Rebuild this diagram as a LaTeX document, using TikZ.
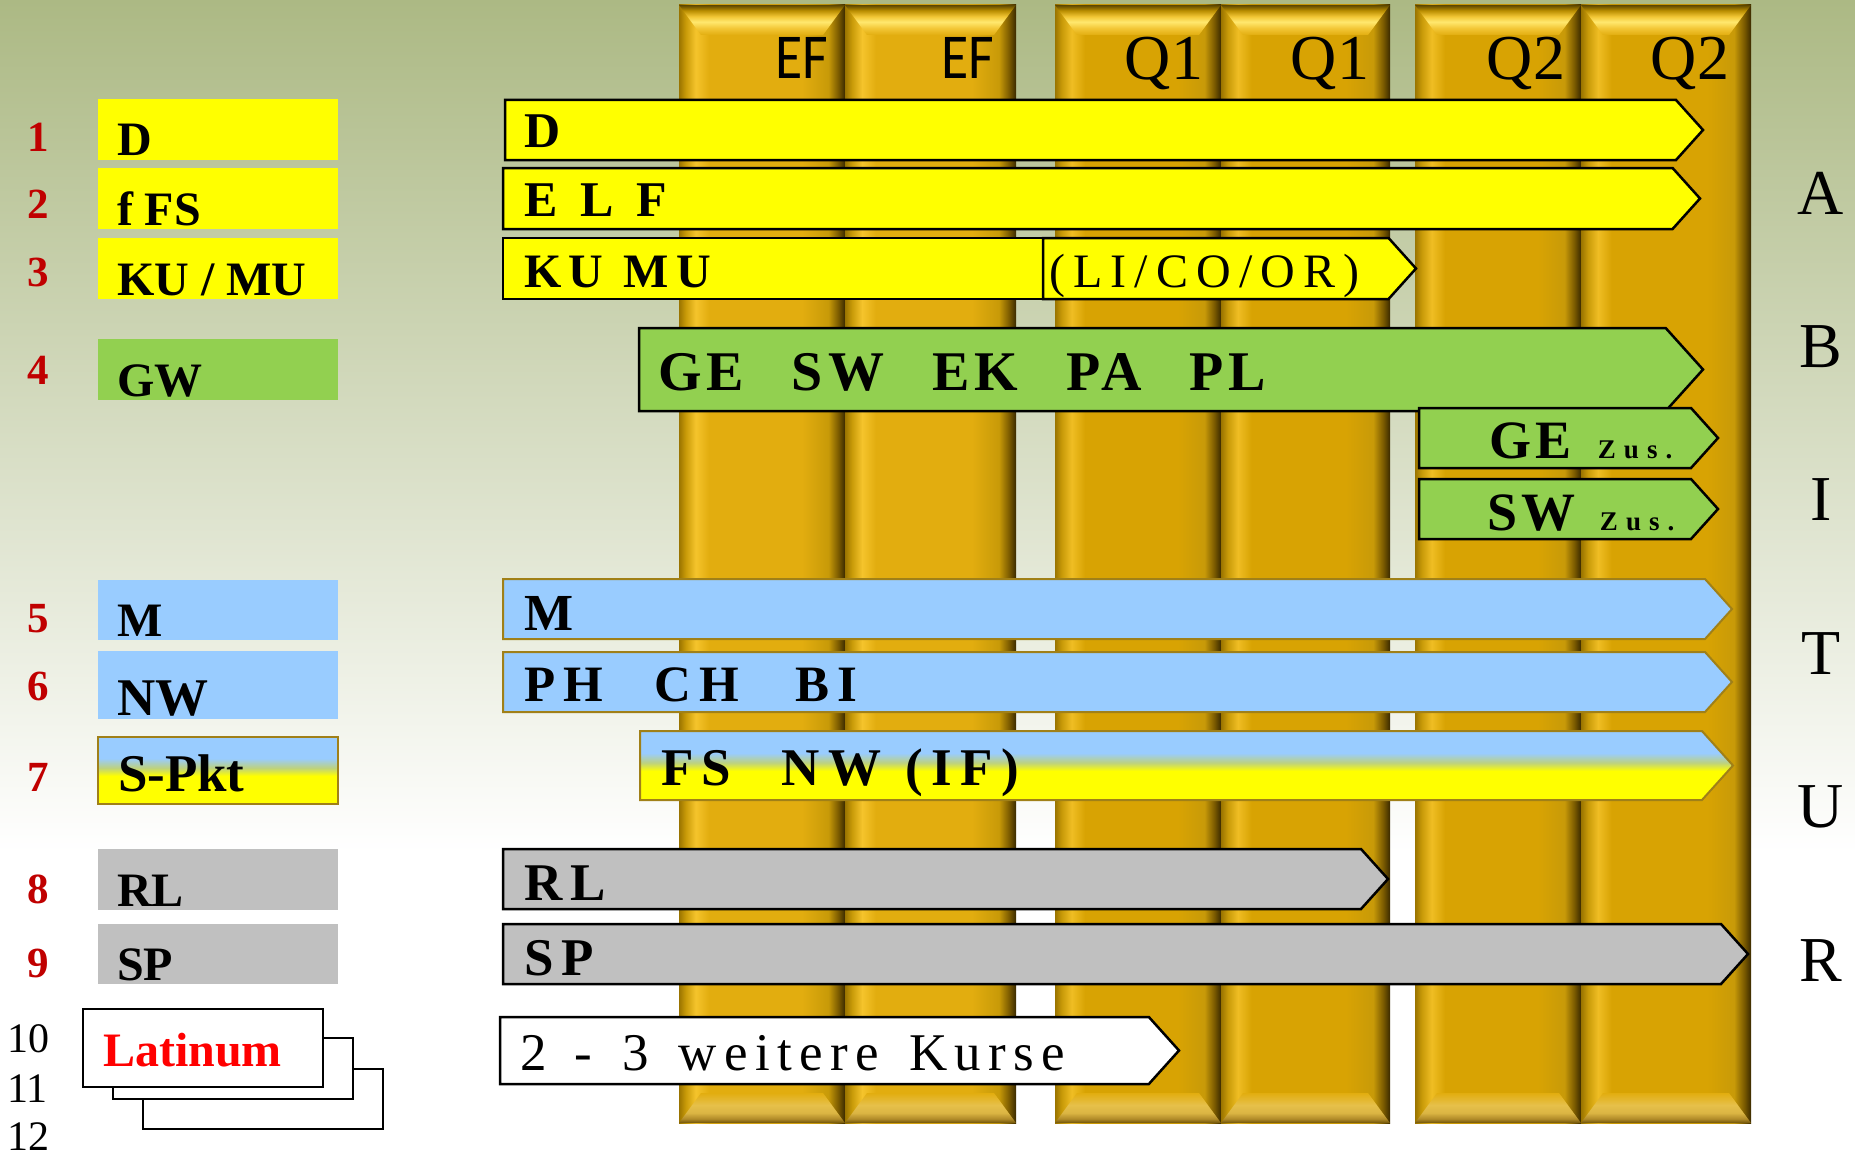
\documentclass[tikz,border=0pt]{standalone}
\usepackage{fontspec}
\usepackage{graphicx}
\setmainfont{Liberation Serif}
\newfontfamily\eFfont{Carlito}
\newfontfamily\sperrfont[LetterSpace=16]{Liberation Serif}
\newfontfamily\elffont[LetterSpace=21]{Liberation Serif}
\newfontfamily\engfont[LetterSpace=9]{Liberation Serif}
\newfontfamily\mittelfont[LetterSpace=17]{Liberation Serif}
\newfontfamily\kursefont[LetterSpace=14]{Liberation Serif}
\newfontfamily\weitfont[LetterSpace=30]{Liberation Serif}

\definecolor{gelb}{HTML}{FFFF00}
\definecolor{gruen}{HTML}{92D050}
\definecolor{blau}{HTML}{99CCFF}
\definecolor{grau}{HTML}{C0C0C0}
\definecolor{rand}{HTML}{A08018}
\definecolor{nummer}{HTML}{C00000}
\definecolor{bgoben}{HTML}{ACB984}
\definecolor{goldA}{HTML}{E2AD0F}
\definecolor{goldB}{HTML}{D8A303}
\definecolor{sRand}{HTML}{9A7400}
\definecolor{sMitte}{HTML}{C89A08}
\definecolor{sHell}{HTML}{F5C42C}
\definecolor{sDunkel}{HTML}{7A5A00}
\definecolor{sSchwarz}{HTML}{3A2A00}
\definecolor{dHell}{HTML}{F2C635}
\definecolor{dGlanz}{HTML}{FFE86E}
\definecolor{dBraun}{HTML}{B88C00}
\definecolor{dDunkel}{HTML}{5C4600}
\definecolor{bHell}{HTML}{E6C04A}
\definecolor{bMittel}{HTML}{B08A28}
\definecolor{bDunkel}{HTML}{6E5208}

\pgfdeclareverticalshading{hintergrund}{100bp}{color(0bp)=(white); color(25bp)=(white);
 color(38bp)=(white); color(75bp)=(bgoben); color(100bp)=(bgoben)}
\pgfdeclarehorizontalshading{saeuleA}{100bp}{color(0bp)=(sRand); color(25bp)=(sRand);
 color(27bp)=(sMitte); color(30bp)=(sHell); color(34bp)=(goldA); color(62bp)=(goldA);
 color(70bp)=(sMitte); color(73bp)=(sDunkel); color(75bp)=(sSchwarz); color(100bp)=(sSchwarz)}
\pgfdeclarehorizontalshading{saeuleB}{100bp}{color(0bp)=(sRand); color(25bp)=(sRand);
 color(27bp)=(sMitte); color(30bp)=(sHell!80!goldB); color(34bp)=(goldB); color(62bp)=(goldB);
 color(70bp)=(sMitte); color(73bp)=(sDunkel); color(75bp)=(sSchwarz); color(100bp)=(sSchwarz)}
\pgfdeclareverticalshading{deckel}{100bp}{color(0bp)=(goldA); color(25bp)=(goldA);
 color(36bp)=(dHell); color(47bp)=(dGlanz); color(56bp)=(dHell); color(66bp)=(dBraun);
 color(75bp)=(dDunkel); color(100bp)=(dDunkel)}
\pgfdeclareverticalshading{boden}{100bp}{color(0bp)=(bDunkel); color(25bp)=(bDunkel);
 color(32bp)=(bMittel); color(42bp)=(bHell!80!bMittel); color(55bp)=(bHell); color(75bp)=(goldA);
 color(100bp)=(goldA)}
\pgfdeclareverticalshading{blaugelb}{100bp}{color(0bp)=(gelb); color(25bp)=(gelb);
 color(46bp)=(gelb); color(52bp)=(blau!50!gelb!80!gray); color(59bp)=(blau); color(100bp)=(blau)}

\newcommand\pfeil[5][]{%
 \draw[#1] (#2,#3) -- ({#4-0.45*(#5-#3)},#3) -- (#4,{(#3+#5)/2})
  -- ({#4-0.45*(#5-#3)},#5) -- (#2,#5) -- cycle;}

\begin{document}
\begin{tikzpicture}[x=1pt,y=-1pt,every node/.style={inner sep=0pt,outer sep=0pt},
 kurs/.style={draw=black,line width=2.5pt,line join=miter},
 kursblau/.style={draw=rand,line width=2pt,line join=miter},
 feld/.style={anchor=north west,minimum width=240pt},
 nr/.style={anchor=base,text=nummer,font=\bfseries\fontsize{43}{45}\selectfont},
 lbl/.style={anchor=base west,font=\bfseries\fontsize{48}{50}\selectfont},
 kt/.style={anchor=base west,font=\sperrfont\bfseries\fontsize{50}{52}\selectfont},
 kopf/.style={anchor=base east,font=\fontsize{64}{66}\selectfont},
 abi/.style={anchor=base,font=\fontsize{64}{66}\selectfont},
 latbox/.style={draw=black,line width=2pt,fill=white}]

  \useasboundingbox (0,0) rectangle (1855,1153);
  \shade[shading=hintergrund] (0,0) rectangle (1855,1153);

  % Saeulen EF / Q1 / Q2
  \foreach \x/\w/\s in {679/166/saeuleA,845/171/saeuleA,1055/166/saeuleB,
   1221/169/saeuleB,1415/166/saeuleB,1581/170/saeuleB}
  {\shade[shading=\s] (\x,5) rectangle ++(\w,1118);
   \shade[shading=deckel] (\x,5) -- ++(\w,0) -- ++(-22,30) -- (\x+22,35) -- cycle;
   \shade[shading=boden] (\x,1123) -- ++(\w,0) -- ++(-22,-30) -- (\x+22,1093) -- cycle;
  }
  \node[kopf,font=\eFfont\fontsize{64}{66}\selectfont] (ef1) at (828,79) {\scalebox{0.87}[1]{EF}};
  \node[kopf,font=\eFfont\fontsize{64}{66}\selectfont] (ef2) at (994,79) {\scalebox{0.87}[1]{EF}};
  \node[kopf] (qa1) at (1203,80) {Q1};
  \node[kopf] (qa2) at (1369,80) {Q1};
  \node[kopf] (qb1) at (1565,80) {Q2};
  \node[kopf] (qb2) at (1729,80) {Q2};

  % linke Spalte
  \foreach \n/\ya/\h/\farbe/\txt/\nb/\gr in {1/99/61/gelb/D/151/48,2/168/61/gelb/f FS/218/48,
   3/238/61/gelb/{KU / MU}/286/48,4/339/61/gruen/GW/384/48,5/580/60/blau/M/632/48,
   6/651/68/blau/NW/700/53,8/849/61/grau/RL/903/48,9/924/60/grau/SP/977/48}
  {\node[feld,fill=\farbe,minimum height=\h pt] (f\n) at (98,\ya) {};
   \node[lbl,font=\bfseries\fontsize{\gr}{\gr}\selectfont] (l\n) at ([xshift=19pt,yshift=4pt]f\n.south west) {\txt};
   \node[nr] (n\n) at (38,\nb) {\n};
  }
  \shade[shading=blaugelb,draw=rand,line width=2pt] (98,737) rectangle (338,804);
  \node[feld,minimum height=67pt] (f7) at (98,737) {};
  \node[lbl,font=\bfseries\fontsize{53}{53}\selectfont] (l7) at (118,791) {S-Pkt};
  \node[nr] (n7) at (38,791) {7};

  \draw[latbox] (143,1069) rectangle (383,1129);
  \draw[latbox] (113,1038) rectangle (353,1099);
  \node[latbox,anchor=north west,minimum width=240pt,minimum height=78pt] (lat) at (83,1009) {};
  \node[lbl,text=red] (latt) at (103,1066) {Latinum};
  \node[anchor=base west,font=\fontsize{42}{44}\selectfont] (n10) at (7,1052) {10};
  \node[anchor=base west,font=\fontsize{42}{44}\selectfont] (n11) at (7,1102) {11};
  \node[anchor=base west,font=\fontsize{42}{44}\selectfont] (n12) at (7,1150) {12};

  % Kurse
  \pfeil[kurs,fill=gelb]{505}{100}{1703}{160}
  \pfeil[kurs,fill=gelb]{503}{168}{1700}{229}
  \draw[kurs,fill=gelb] (503,238) rectangle (1043,299);
  \pfeil[kurs,fill=gelb]{1043}{238}{1416}{299}
  \pfeil[kurs,fill=gruen]{639}{328}{1703}{411}
  \pfeil[kurs,fill=gruen]{1419}{408}{1718}{468}
  \pfeil[kurs,fill=gruen]{1419}{479}{1718}{539}
  \pfeil[kursblau,fill=blau]{503}{579}{1732}{639}
  \pfeil[kursblau,fill=blau]{503}{652}{1732}{712}
  \pfeil[kursblau,shade,shading=blaugelb]{640}{731}{1733}{800}
  \pfeil[kurs,fill=grau]{503}{849}{1388}{909}
  \pfeil[kurs,fill=grau]{503}{924}{1748}{984}
  \pfeil[kurs,fill=white]{500}{1017}{1179}{1084}

  \node[kt] (tD) at (524,147) {D};
  \node[kt,font=\elffont\bfseries\fontsize{50}{52}\selectfont] (tELF) at (524,216) {E L F};
  \node[kt,font=\sperrfont\bfseries\fontsize{48}{50}\selectfont] (tKU) at (524,287) {KU MU};
  \node[kt,font=\mittelfont\fontsize{48}{50}\selectfont] (tLI) at (1049,287) {(LI/CO/OR)};
  \node[kt,font=\engfont\bfseries\fontsize{56}{58}\selectfont] (tGW) at (658,390)
   {GE\hspace{48pt}SW\hspace{48pt}EK\hspace{48pt}PA\hspace{48pt}PL};
  \node[kt,font=\engfont\bfseries\fontsize{54}{56}\selectfont] (tGE) at (1489,458)
   {GE\hspace{26pt}{\weitfont\fontsize{27}{29}\selectfont Zus.}};
  \node[kt,font=\engfont\bfseries\fontsize{54}{56}\selectfont] (tSW) at (1487,530)
   {SW\hspace{24pt}{\weitfont\fontsize{27}{29}\selectfont Zus.}};
  \node[kt,font=\sperrfont\bfseries\fontsize{52}{54}\selectfont] (tM) at (524,630) {M};
  \node[kt,font=\sperrfont\bfseries\fontsize{51}{53}\selectfont] (tPH) at (524,701)
   {PH\hspace{52pt}CH\hspace{56pt}BI};
  \node[kt,font=\sperrfont\bfseries\fontsize{53}{55}\selectfont] (tFS) at (661,785)
   {FS\hspace{50pt}NW\hspace{24pt}(IF)};
  \node[kt,font=\sperrfont\bfseries\fontsize{53}{55}\selectfont] (tRL) at (524,900) {RL};
  \node[kt,font=\sperrfont\bfseries\fontsize{53}{55}\selectfont] (tSP) at (524,975) {SP};
  \node[kt,font=\kursefont\fontsize{53}{55}\selectfont] (tWK) at (520,1070)
   {2\hspace{28pt}-\hspace{30pt}3\hspace{30pt}weitere\hspace{30pt}Kurse};

  \foreach \b [count=\i from 0] in {A,B,I,T,U,R}
   \node[abi] (abi\b) at (1821,214+153.4*\i) {\b};
\end{tikzpicture}
\end{document}
